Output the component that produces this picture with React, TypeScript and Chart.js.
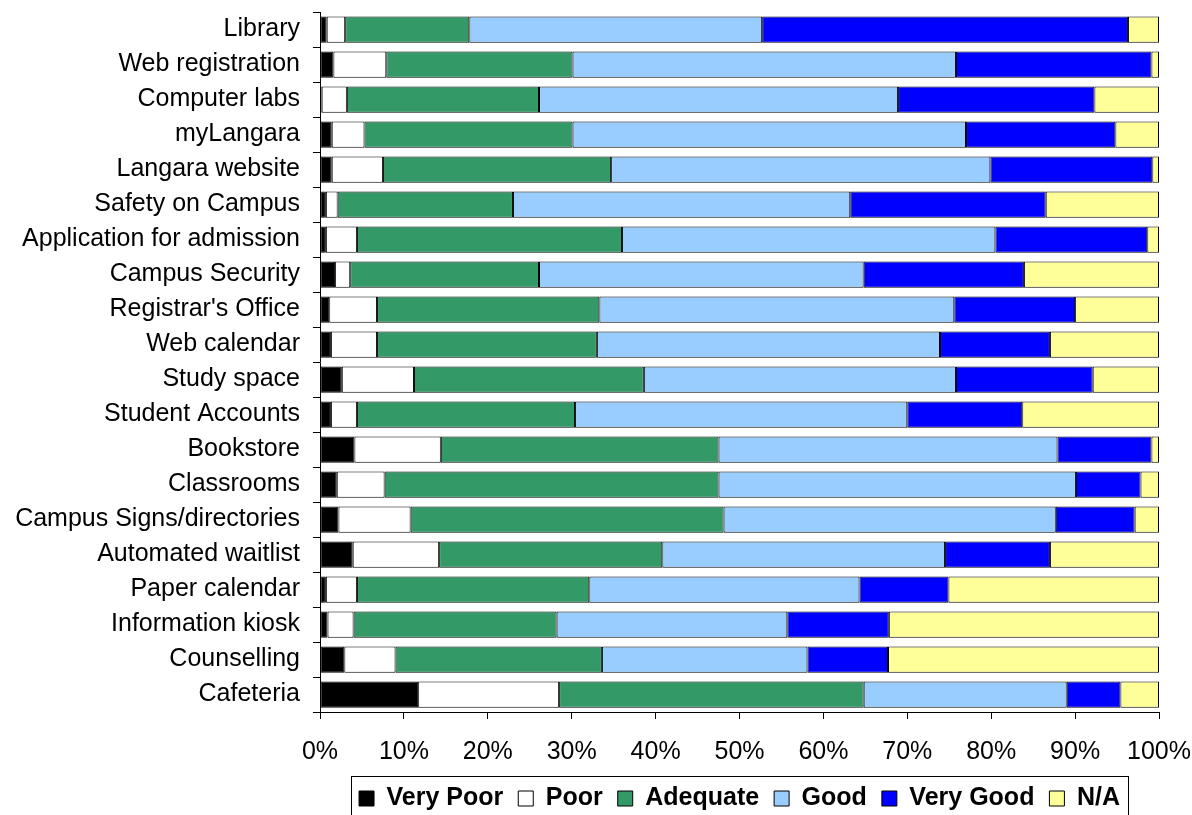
import React, { useEffect, useRef } from "react";
import { Chart, registerables } from "chart.js";

Chart.register(...registerables);

const categories = [
  "Library",
  "Web registration",
  "Computer labs",
  "myLangara",
  "Langara website",
  "Safety on Campus",
  "Application for admission",
  "Campus Security",
  "Registrar's Office",
  "Web calendar",
  "Study space",
  "Student Accounts",
  "Bookstore",
  "Classrooms",
  "Campus Signs/directories",
  "Automated waitlist",
  "Paper calendar",
  "Information kiosk",
  "Counselling",
  "Cafeteria",
];

const veryPoor = [0.8, 1.6, 0.2, 1.4, 1.4, 0.7, 0.7, 1.8, 1.1, 1.3, 2.6, 1.3, 4.1, 2.0, 2.2, 3.9, 0.7, 0.9, 2.9, 11.7];
const poor = [2.2, 6.3, 3.0, 3.9, 6.1, 1.4, 3.7, 1.8, 5.7, 5.5, 8.6, 3.1, 10.3, 5.7, 8.6, 10.3, 3.7, 3.1, 6.1, 16.8];
const adequate = [14.8, 22.2, 22.9, 24.8, 27.2, 20.9, 31.6, 22.5, 26.5, 26.2, 27.4, 26.0, 33.1, 39.8, 37.3, 26.6, 27.7, 24.2, 24.6, 36.3];
const good = [34.9, 45.7, 42.8, 46.9, 45.2, 40.2, 44.5, 38.7, 42.3, 40.9, 37.2, 39.6, 40.4, 42.6, 39.6, 33.7, 32.2, 27.5, 24.5, 24.2];
const veryGood = [43.6, 23.3, 23.4, 17.8, 19.3, 23.3, 18.1, 19.1, 14.4, 13.1, 16.3, 13.7, 11.2, 7.7, 9.4, 12.5, 10.6, 12.1, 9.6, 6.4];
const notApplicable = [3.7, 0.9, 7.7, 5.2, 0.8, 13.5, 1.4, 16.1, 10.0, 13.0, 7.9, 16.3, 0.9, 2.2, 2.9, 13.0, 25.1, 32.2, 32.3, 4.6];

const seriesNames = ["Very Poor", "Poor", "Adequate", "Good", "Very Good", "N/A"];
const seriesColors = ["#000000", "#FFFFFF", "#339966", "#99CCFF", "#0000FF", "#FFFF99"];
const seriesValues = [veryPoor, poor, adequate, good, veryGood, notApplicable];

const FONT = '"Liberation Sans", Arial, sans-serif';

const legendBorder = {
  id: "legendBorder",
  afterDraw(chart: any) {
    const lg = chart.legend;
    const hb = lg && lg.legendHitBoxes;
    if (!hb || !hb.length) return;
    const ctx = chart.ctx;
    const last = hb[hb.length - 1];
    const left = Math.round(hb[0].left - 8);
    const right = Math.round(last.left + last.width + 8);
    const top = Math.round(hb[0].top - 10);
    ctx.save();
    ctx.strokeStyle = "#000";
    ctx.lineWidth = 1;
    ctx.strokeRect(left + 0.5, top + 0.5, right - left, chart.height - top + 20);
    ctx.restore();
  },
};

export default function App() {
  const ref = useRef<HTMLCanvasElement | null>(null);

  useEffect(() => {
    if (!ref.current) return;
    const chart = new Chart(ref.current, {
      type: "bar",
      data: {
        labels: categories,
        datasets: seriesNames.map((name, i) => ({
          label: name,
          data: seriesValues[i],
          backgroundColor: seriesColors[i],
          borderColor: "#000000",
          borderWidth: 1,
          borderSkipped: false,
          barPercentage: 0.75,
          categoryPercentage: 1,
        })),
      },
      plugins: [legendBorder],
      options: {
        indexAxis: "y",
        responsive: false,
        animation: false,
        devicePixelRatio: 1,
        layout: { padding: { top: 0, left: 0, right: 0, bottom: 0 } },
        scales: {
          x: {
            stacked: true,
            min: 0,
            max: 100,
            afterFit: (scale: any) => {
              scale.height = 59;
              scale.paddingLeft = 0;
              scale.paddingRight = 33;
            },
            ticks: {
              stepSize: 10,
              autoSkip: false,
              maxRotation: 0,
              padding: 18,
              color: "#000",
              font: { family: FONT, size: 25 },
              callback: (v: any) => v + "%",
            },
            grid: {
              drawOnChartArea: false,
              drawTicks: true,
              tickLength: 7,
              color: "#000",
            },
            border: { display: true, color: "#000", width: 1 },
          },
          y: {
            stacked: true,
            afterFit: (scale: any) => {
              scale.width = 320;
              scale.paddingTop = 12;
              scale.paddingBottom = 0;
            },
            ticks: {
              autoSkip: false,
              padding: 13,
              color: "#000",
              font: { family: FONT, size: 25 },
            },
            grid: {
              offset: true,
              drawOnChartArea: false,
              drawTicks: true,
              tickLength: 7,
              color: "#000",
            },
            border: { display: true, color: "#000", width: 1 },
          },
        },
        plugins: {
          legend: {
            position: "bottom",
            fullSize: false,
            labels: {
              boxWidth: 15,
              boxHeight: 15,
              padding: 15,
              color: "#000",
              font: { family: FONT, size: 25, weight: "bold" },
            },
          },
          tooltip: { enabled: false },
          title: { display: false },
        },
      },
    } as any);
    return () => chart.destroy();
  }, []);

  return (
    <div
      style={{
        position: "fixed",
        left: 0,
        top: 0,
        width: 1192,
        height: 815,
        overflow: "hidden",
        background: "#fff",
      }}
    >
      <canvas ref={ref} width={1192} height={821} style={{ display: "block" }} />
    </div>
  );
}
